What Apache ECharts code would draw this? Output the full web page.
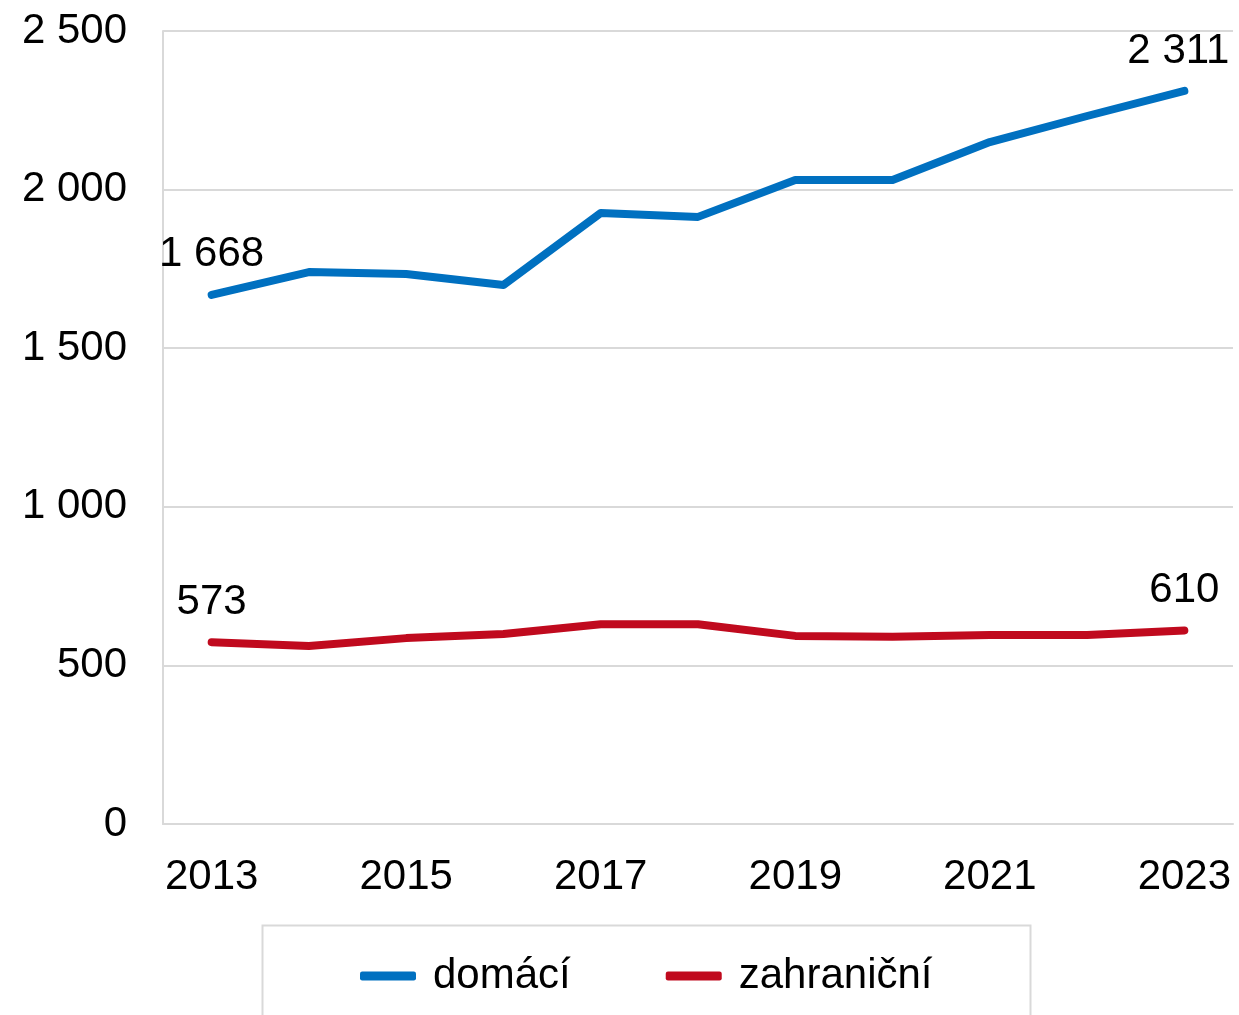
<!DOCTYPE html>
<html>
<head>
<meta charset="utf-8">
<script src="https://cdn.jsdelivr.net/npm/echarts@6/dist/echarts.min.js"></script>
<style>html,body{margin:0;padding:0;background:#fff}#c{width:1239px;height:1015px}</style>
</head>
<body>
<div id="c"></div>
<script>
var years = ['2013','2014','2015','2016','2017','2018','2019','2020','2021','2022','2023'];
var domaci = [1668, 1740, 1734, 1699, 1926, 1914, 2030, 2030, 2150, 2232, 2311];
var zahranicni = [573, 561, 586, 599, 630, 630, 593, 590, 596, 596, 610];
var seriesNames = ['domácí', 'zahraniční'];
var yTicks = {min: 0, max: 2500, interval: 500};

function fmt(v){ return String(v).replace(/\B(?=(\d{3})+(?!\d))/g, ' '); }
var FONT = '"Liberation Sans", Arial, sans-serif';
var FS = 42;
var chart = echarts.init(document.getElementById('c'), null, {renderer: 'canvas'});

function lbl(idxs){
  return {
    show: true, position: 'top', distance: 18,
    fontFamily: FONT, fontSize: FS, color: '#000',
    formatter: function(p){ return idxs.indexOf(p.dataIndex) >= 0 ? fmt(p.value) : ''; }
  };
}
var domaciData = domaci.map(function(v, i){
  return i === domaci.length - 1 ? {value: v, label: {offset: [-6, 0]}} : v;
});

chart.setOption({
  animation: false,
  backgroundColor: '#fff',
  grid: {left: 163, right: 6, top: 31, bottom: 191, containLabel: false},
  graphic: [{
    type: 'rect', left: 260, top: 923,
    shape: {width: 768, height: 130},
    style: {fill: 'none', stroke: '#d9d9d9', lineWidth: 2}
  }],
  legend: {
    left: 355, top: 950,
    itemWidth: 56, itemHeight: 9, itemGap: 95,
    icon: 'roundRect',
    textStyle: {fontFamily: FONT, fontSize: FS, color: '#000', padding: [0,0,0,12]},
    data: seriesNames
  },
  xAxis: {
    type: 'category', data: years, boundaryGap: true,
    axisLine: {show: true, lineStyle: {color: '#d9d9d9', width: 2}},
    axisTick: {show: false},
    axisLabel: {interval: 1, margin: 32, fontFamily: FONT, fontSize: FS, color: '#000'},
    splitLine: {show: false}
  },
  yAxis: {
    type: 'value', min: yTicks.min, max: yTicks.max, interval: yTicks.interval,
    axisLine: {show: true, lineStyle: {color: '#d9d9d9', width: 2}},
    axisTick: {show: false},
    axisLabel: {margin: 36, fontFamily: FONT, fontSize: FS, color: '#000', formatter: fmt},
    splitLine: {show: true, lineStyle: {color: '#d9d9d9', width: 2}}
  },
  series: [
    {
      name: seriesNames[0], type: 'line', data: domaciData, showSymbol: true, symbol: 'circle', symbolSize: 2,
      itemStyle: {color: '#0070c0'},
      color: '#0070c0',
      lineStyle: {color: '#0070c0', width: 8, cap: 'round', join: 'round'},
      label: lbl([0, 10])
    },
    {
      name: seriesNames[1], type: 'line', data: zahranicni, showSymbol: true, symbol: 'circle', symbolSize: 2,
      itemStyle: {color: '#c00a1e'},
      color: '#c00a1e',
      lineStyle: {color: '#c00a1e', width: 8, cap: 'round', join: 'round'},
      label: lbl([0, 10])
    }
  ]
});
</script>
</body>
</html>
